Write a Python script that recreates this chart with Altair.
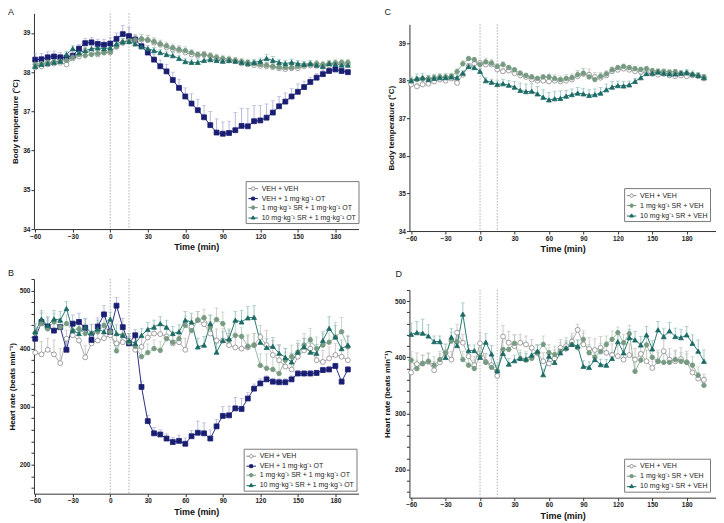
import altair as alt
import pandas as pd

FONT = "Liberation Sans"

# ---------------- data ----------------
T_AB = list(range(-60, 195, 5))   # 51 time points, panels A/B
T_CD = list(range(-60, 200, 5))   # 52 time points, panels C/D
MARKER_TIMES = [0, 15]
X_TICKS = [-60, -30, 0, 30, 60, 90, 120, 150, 180]
TEMP_TICKS = [34, 35, 36, 37, 38, 39]
HR_TICKS = [160, 180, 200, 220, 240, 260, 280, 300, 320, 340, 360, 380, 400,
            420, 440, 460, 480, 500, 520]

LAB_VEH = "VEH + VEH"
LAB_OT = "VEH + 1 mg·kg⁻¹ OT"
LAB_SR1_OT = "1 mg·kg⁻¹ SR + 1 mg·kg⁻¹ OT"
LAB_SR10_OT = "10 mg·kg⁻¹ SR + 1 mg·kg⁻¹ OT"
LAB_SR1_VEH = "1 mg·kg⁻¹ SR + VEH"
LAB_SR10_VEH = "10 mg·kg⁻¹ SR + VEH"

# Panel A: body temperature (°C)
A_veh = [38.12, 38.15, 38.20, 38.22, 38.24, 38.20, 38.35, 38.40, 38.55, 38.50,
         38.45, 38.50, 38.50, 38.65, 38.75, 38.85, 38.85, 38.83, 38.82, 38.75,
         38.70, 38.63, 38.58, 38.55, 38.50, 38.45, 38.42, 38.45, 38.40, 38.35,
         38.30, 38.30, 38.28, 38.22, 38.20, 38.18, 38.16, 38.15, 38.13, 38.10,
         38.08, 38.10, 38.10, 38.15, 38.17, 38.16, 38.14, 38.18, 38.20, 38.22,
         38.20]
A_veh_sem = [0.12, 0.12, 0.10, 0.10, 0.10, 0.08, 0.10, 0.10, 0.10, 0.10,
             0.10, 0.10, 0.10, 0.10, 0.10, 0.10, 0.10, 0.12, 0.12, 0.10,
             0.10, 0.10, 0.10, 0.10, 0.08, 0.08, 0.08, 0.08, 0.08, 0.08,
             0.08, 0.08, 0.08, 0.08, 0.08, 0.08, 0.08, 0.10, 0.10, 0.08,
             0.08, 0.08, 0.08, 0.08, 0.08, 0.08, 0.08, 0.08, 0.08, 0.08,
             0.08]
A_ot = [38.32, 38.33, 38.38, 38.40, 38.38, 38.37, 38.42, 38.60, 38.74, 38.76,
        38.72, 38.70, 38.73, 38.85, 38.97, 38.92, 38.83, 38.66, 38.50, 38.32,
        38.15, 38.02, 37.80, 37.60, 37.38, 37.20, 37.03, 36.85, 36.65, 36.46,
        36.43, 36.45, 36.52, 36.63, 36.62, 36.75, 36.77, 36.84, 36.97, 37.13,
        37.25, 37.38, 37.50, 37.62, 37.75, 37.86, 37.95, 38.03, 38.07, 38.03,
        38.00]
A_ot_sem = [0.15, 0.15, 0.14, 0.14, 0.12, 0.12, 0.12, 0.10, 0.12, 0.12,
            0.12, 0.14, 0.15, 0.15, 0.22, 0.22, 0.12, 0.12, 0.12, 0.14,
            0.16, 0.18, 0.20, 0.22, 0.22, 0.25, 0.28, 0.30, 0.35, 0.35,
            0.30, 0.30, 0.45, 0.45, 0.45, 0.40, 0.38, 0.35, 0.30, 0.25,
            0.22, 0.20, 0.20, 0.15, 0.12, 0.10, 0.10, 0.08, 0.08, 0.06,
            0.06]
A_sr1 = [38.20, 38.22, 38.25, 38.27, 38.28, 38.30, 38.38, 38.45, 38.42, 38.45,
         38.48, 38.50, 38.52, 38.65, 38.75, 38.80, 38.82, 38.85, 38.82, 38.78,
         38.72, 38.67, 38.62, 38.58, 38.55, 38.50, 38.45, 38.45, 38.42, 38.38,
         38.35, 38.33, 38.30, 38.27, 38.25, 38.22, 38.20, 38.18, 38.15, 38.13,
         38.12, 38.12, 38.15, 38.18, 38.20, 38.22, 38.20, 38.22, 38.24, 38.25,
         38.25]
A_sr1_sem = [0.10, 0.10, 0.10, 0.10, 0.10, 0.10, 0.10, 0.08, 0.08, 0.08,
             0.08, 0.08, 0.10, 0.10, 0.10, 0.10, 0.12, 0.12, 0.12, 0.10,
             0.10, 0.10, 0.10, 0.10, 0.10, 0.08, 0.08, 0.08, 0.08, 0.08,
             0.08, 0.08, 0.08, 0.08, 0.08, 0.08, 0.08, 0.08, 0.08, 0.08,
             0.08, 0.08, 0.08, 0.08, 0.08, 0.08, 0.08, 0.08, 0.08, 0.08,
             0.08]
A_sr10 = [38.15, 38.20, 38.22, 38.25, 38.28, 38.45, 38.60, 38.50, 38.55, 38.60,
          38.62, 38.60, 38.62, 38.72, 38.78, 38.78, 38.72, 38.65, 38.60, 38.55,
          38.50, 38.45, 38.42, 38.35, 38.27, 38.25, 38.25, 38.30, 38.32, 38.30,
          38.28, 38.30, 38.28, 38.25, 38.22, 38.25, 38.28, 38.35, 38.30, 38.25,
          38.22, 38.25, 38.22, 38.20, 38.22, 38.18, 38.15, 38.22, 38.20, 38.18,
          38.18]
A_sr10_sem = [0.10, 0.10, 0.08, 0.08, 0.08, 0.08, 0.08, 0.08, 0.08, 0.08,
              0.08, 0.08, 0.08, 0.08, 0.08, 0.08, 0.08, 0.08, 0.08, 0.08,
              0.08, 0.08, 0.08, 0.08, 0.08, 0.08, 0.08, 0.08, 0.08, 0.08,
              0.08, 0.08, 0.08, 0.08, 0.08, 0.08, 0.08, 0.10, 0.10, 0.08,
              0.08, 0.08, 0.08, 0.08, 0.08, 0.08, 0.08, 0.08, 0.08, 0.08,
              0.08]

# Panel B: heart rate (beats min^-1)
B_veh = [393, 390, 398, 390, 375, 417, 423, 414, 385, 409,
         414, 418, 423, 409, 411, 414, 398, 403, 419, 426,
         425, 421, 409, 411, 398, 438, 449, 442, 426, 414,
         414, 406, 402, 400, 402, 406, 420, 406, 389, 380,
         369, 364, 386, 397, 400, 380, 377, 383, 389, 386,
         380]
B_veh_sem = [25, 22, 20, 25, 25, 15, 15, 15, 20, 15,
             15, 12, 12, 15, 15, 12, 15, 15, 15, 15,
             15, 15, 15, 15, 20, 15, 15, 15, 20, 20,
             20, 20, 20, 20, 20, 20, 20, 25, 25, 25,
             25, 25, 20, 20, 20, 20, 20, 20, 20, 20,
             20]
B_ot = [417, 446, 438, 431, 437, 398, 443, 446, 436, 415,
        438, 459, 429, 474, 437, 409, 423, 334, 275, 254,
        252, 245, 239, 241, 236, 249, 255, 254, 245, 266,
        284, 285, 297, 296, 314, 331, 340, 347, 343, 342,
        342, 347, 357, 357, 357, 358, 363, 364, 370, 343,
        364]
B_ot_sem = [20, 15, 15, 15, 15, 15, 15, 15, 15, 15,
            15, 15, 15, 14, 15, 12, 10, 10, 10, 10,
            8, 8, 8, 10, 10, 10, 20, 18, 15, 12,
            16, 16, 19, 18, 10, 8, 8, 6, 6, 6,
            6, 6, 5, 5, 5, 5, 5, 5, 5, 5,
            5]
B_sr1 = [427, 443, 434, 446, 437, 443, 431, 434, 426, 426,
         429, 440, 429, 396, 423, 411, 404, 386, 393, 400,
         397, 417, 411, 417, 440, 431, 449, 453, 437, 450,
         443, 414, 423, 421, 404, 406, 371, 366, 364, 357,
         380, 386, 394, 406, 415, 400, 406, 411, 420, 429,
         403]
B_sr1_sem = [15, 20, 15, 15, 15, 15, 15, 15, 15, 15,
             15, 15, 15, 15, 15, 15, 15, 15, 15, 15,
             15, 15, 15, 15, 15, 15, 15, 15, 20, 20,
             20, 20, 20, 15, 20, 20, 20, 25, 25, 25,
             20, 20, 20, 20, 20, 20, 20, 20, 25, 25,
             20]
B_sr10 = [429, 451, 440, 451, 449, 469, 431, 426, 437, 427,
          434, 429, 451, 426, 423, 414, 409, 423, 433, 437,
          443, 437, 426, 429, 449, 446, 403, 406, 443, 394,
          414, 417, 449, 446, 453, 454, 411, 402, 404, 392,
          385, 377, 394, 403, 394, 392, 414, 435, 420, 400,
          406]
B_sr10_sem = [15, 15, 15, 15, 15, 12, 15, 15, 15, 15,
              15, 15, 12, 15, 15, 12, 12, 12, 12, 12,
              12, 12, 12, 12, 15, 15, 15, 15, 15, 15,
              15, 15, 15, 20, 20, 20, 15, 15, 15, 15,
              15, 15, 15, 15, 15, 15, 15, 20, 20, 15,
              15]

# Panel C: body temperature (°C)
C_veh = [37.90, 37.85, 37.90, 37.92, 37.98, 38.03, 38.00, 38.06, 37.94, 38.16,
         38.38, 38.45, 38.47, 38.43, 38.43, 38.30, 38.25, 38.27, 38.20, 38.14,
         38.10, 38.03, 38.00, 38.00, 37.98, 38.00, 37.98, 38.00, 38.03, 38.12,
         38.18, 38.16, 38.10, 38.08, 38.14, 38.25, 38.29, 38.32, 38.29, 38.25,
         38.24, 38.20, 38.18, 38.16, 38.18, 38.14, 38.12, 38.14, 38.12, 38.14,
         38.12, 38.06]
C_veh_sem = [0.08, 0.08, 0.08, 0.08, 0.08, 0.08, 0.08, 0.08, 0.08, 0.08,
             0.08, 0.08, 0.08, 0.10, 0.10, 0.08, 0.08, 0.08, 0.08, 0.08,
             0.08, 0.08, 0.08, 0.08, 0.08, 0.08, 0.10, 0.10, 0.12, 0.15,
             0.15, 0.15, 0.12, 0.12, 0.12, 0.10, 0.08, 0.08, 0.08, 0.08,
             0.08, 0.08, 0.08, 0.08, 0.08, 0.08, 0.08, 0.08, 0.08, 0.08,
             0.08, 0.08]
C_sr1 = [38.00, 38.03, 38.05, 38.06, 38.08, 38.10, 38.10, 38.12, 38.24, 38.45,
         38.59, 38.56, 38.43, 38.50, 38.47, 38.38, 38.43, 38.35, 38.29, 38.20,
         38.14, 38.10, 38.06, 38.10, 38.10, 38.06, 38.03, 38.06, 38.08, 38.16,
         38.20, 38.10, 38.03, 38.12, 38.18, 38.29, 38.35, 38.38, 38.35, 38.32,
         38.30, 38.32, 38.27, 38.25, 38.25, 38.23, 38.24, 38.20, 38.20, 38.16,
         38.14, 38.10]
C_sr1_sem = [0.08, 0.08, 0.08, 0.08, 0.08, 0.08, 0.08, 0.08, 0.08, 0.08,
             0.06, 0.06, 0.08, 0.10, 0.10, 0.08, 0.08, 0.06, 0.06, 0.06,
             0.06, 0.06, 0.06, 0.06, 0.08, 0.10, 0.10, 0.10, 0.10, 0.10,
             0.12, 0.12, 0.12, 0.10, 0.08, 0.08, 0.06, 0.06, 0.06, 0.06,
             0.06, 0.06, 0.06, 0.06, 0.06, 0.06, 0.06, 0.06, 0.06, 0.06,
             0.06, 0.06]
C_sr10 = [38.00, 38.06, 38.08, 38.03, 38.06, 38.08, 38.08, 38.10, 38.08, 38.20,
          38.38, 38.35, 38.25, 38.00, 37.96, 37.90, 37.92, 37.88, 37.83, 37.74,
          37.71, 37.72, 37.65, 37.56, 37.49, 37.52, 37.53, 37.59, 37.63, 37.67,
          37.65, 37.61, 37.63, 37.67, 37.76, 37.83, 37.87, 37.86, 37.89, 37.98,
          38.08, 38.19, 38.20, 38.23, 38.20, 38.18, 38.18, 38.20, 38.22, 38.18,
          38.14, 38.08]
C_sr10_sem = [0.10, 0.12, 0.12, 0.12, 0.10, 0.10, 0.10, 0.08, 0.08, 0.08,
              0.08, 0.08, 0.08, 0.08, 0.08, 0.10, 0.12, 0.12, 0.15, 0.20,
              0.20, 0.20, 0.20, 0.20, 0.20, 0.20, 0.20, 0.15, 0.15, 0.15,
              0.15, 0.15, 0.15, 0.15, 0.15, 0.15, 0.12, 0.12, 0.10, 0.08,
              0.08, 0.08, 0.08, 0.08, 0.08, 0.08, 0.08, 0.08, 0.08, 0.08,
              0.08, 0.08]

# Panel D: heart rate (beats min^-1)
D_veh = [373, 388, 389, 392, 377, 391, 409, 396, 444, 426,
         402, 386, 425, 392, 386, 367, 437, 426, 420, 426,
         423, 417, 408, 393, 389, 398, 417, 420, 428, 449,
         423, 415, 413, 417, 408, 404, 402, 396, 404, 396,
         406, 393, 381, 393, 411, 396, 393, 397, 391, 373,
         362, 360]
D_veh_sem = [20, 20, 15, 15, 15, 15, 15, 15, 15, 15,
             20, 15, 20, 15, 15, 15, 20, 20, 20, 15,
             15, 15, 15, 15, 15, 15, 15, 15, 15, 10,
             20, 20, 20, 20, 20, 20, 20, 20, 20, 20,
             20, 20, 20, 20, 20, 20, 20, 20, 20, 15,
             10, 10]
D_sr1 = [395, 380, 389, 393, 386, 396, 408, 429, 428, 396,
         386, 380, 402, 391, 382, 376, 414, 414, 425, 398,
         395, 398, 408, 423, 408, 405, 411, 415, 423, 417,
         432, 408, 400, 410, 423, 432, 444, 426, 442, 375,
         395, 422, 400, 393, 391, 391, 396, 393, 391, 386,
         368, 350]
D_sr1_sem = [15, 15, 15, 15, 15, 15, 15, 15, 15, 15,
             15, 15, 15, 15, 15, 15, 15, 15, 15, 15,
             15, 15, 15, 15, 15, 15, 15, 15, 15, 15,
             15, 15, 15, 15, 15, 15, 10, 15, 15, 15,
             15, 15, 15, 15, 15, 15, 15, 15, 15, 15,
             15, 15]
D_sr10 = [441, 444, 443, 438, 428, 428, 400, 436, 421, 477,
          412, 412, 400, 427, 406, 376, 407, 388, 394, 398,
          397, 404, 411, 369, 402, 391, 408, 417, 423, 420,
          384, 382, 396, 387, 386, 398, 428, 408, 435, 431,
          422, 440, 415, 449, 437, 447, 437, 435, 440, 425,
          411, 393]
D_sr10_sem = [20, 20, 25, 20, 10, 10, 10, 15, 20, 20,
              10, 10, 10, 15, 15, 10, 10, 10, 10, 10,
              10, 10, 10, 10, 10, 10, 10, 10, 10, 10,
              10, 10, 10, 10, 10, 10, 15, 15, 15, 15,
              15, 15, 15, 15, 15, 15, 15, 15, 15, 15,
              20, 20]

# ---------------- styles ----------------
STYLE = {
    "veh": dict(line="#ababab", stroke="#8a8a8a", fill="#ffffff", err="#c4b8b8",
                shape="circle",
                leg="M-1,0L-0.42,0M0.42,0L1,0M-0.36,0A0.36,0.36 0 1,0 0.36,0A0.36,0.36 0 1,0 -0.36,0Z"),
    "ot": dict(line="#2a2e88", stroke="#1a1e72", fill="#1a1e72", err="#a4a8d0",
               shape="square",
               leg="M-1,0L1,0M-0.3,-0.3L0.3,-0.3L0.3,0.3L-0.3,0.3Z"),
    "sr1": dict(line="#9cb9a4", stroke="#779a82", fill="#779a82", err="#b4cbbb",
                shape="M-0.5,-0.87L0.5,-0.87L1,0L0.5,0.87L-0.5,0.87L-1,0Z",
                leg="M-1,0L1,0M-0.19,-0.34L0.19,-0.34L0.38,0L0.19,0.34L-0.19,0.34L-0.38,0Z"),
    "sr10": dict(line="#2a7a73", stroke="#1c6a64", fill="#1c6a64", err="#88bab5",
                 shape="triangle-up",
                 leg="M-1,0.1L1,0.1M0,-0.36L0.4,0.3L-0.4,0.3Z"),
}


def frame(times, series):
    rows = []
    for lab, vals, sems in series:
        for t, v, s in zip(times, vals, sems):
            rows.append({"t": t, "s": lab, "v": v, "hi": v + s})
    return pd.DataFrame(rows)


def letter(text, dx, dy):
    # panel letter, placed relative to the panel's plot origin
    return alt.Chart(pd.DataFrame({"k": [text]})).mark_text(
        align="left", baseline="top", fontSize=9, font=FONT, color="#222222"
    ).encode(x=alt.value(dx), y=alt.value(dy), text="k:N")


def panel(df, keys, labels, xdom, ydom, yvals, hr, ytitle, w, h,
          let, lx, ly):
    xs = alt.Scale(domain=xdom, nice=False, zero=False)
    ys = alt.Scale(domain=ydom, nice=False, zero=False)
    xax = alt.Axis(values=X_TICKS, title="Time (min)", format="d",
                   titleFontSize=9, titleFontWeight="bold",
                   labelFontSize=6.5, labelFontWeight="bold",
                   tickSize=3, labelPadding=1, titlePadding=3, grid=False)
    yax = alt.Axis(values=yvals, title=ytitle,
                   labelExpr=("datum.value % 100 === 0 ? datum.label : ''" if hr
                              else "datum.label"),
                   titleFontSize=8, titleFontWeight="bold",
                   labelFontSize=6.5, labelFontWeight="bold",
                   tickSize=3, labelPadding=1, titlePadding=3, grid=False)
    X = alt.X("t:Q", scale=xs, axis=xax)
    Y = alt.Y("v:Q", scale=ys, axis=yax)
    Yhi = alt.Y("hi:Q", scale=ys, axis=yax)

    def sc(prop):
        return alt.Scale(domain=labels, range=[STYLE[k][prop] for k in keys])

    leg = alt.Legend(title=None, orient="none", legendX=lx, legendY=ly,
                     strokeColor="#7a7a7a", fillColor="#ffffff", padding=2,
                     labelFont=FONT, labelFontSize=7, labelColor="#222222",
                     rowPadding=0, symbolSize=90, symbolStrokeWidth=1,
                     symbolOpacity=1, labelLimit=300, labelOffset=3)

    base = alt.Chart(df)
    markers = alt.Chart(pd.DataFrame({"t": MARKER_TIMES})).mark_rule(
        color="#9a9a9a", strokeWidth=0.8, strokeDash=[1.5, 1.5]).encode(x=X)
    err = base.mark_rule(strokeWidth=0.8).encode(
        x=X, y=Y, y2="hi:Q",
        color=alt.Color("s:N", scale=sc("err"), legend=None))
    caps = base.mark_tick(orient="horizontal", size=4, thickness=0.8).encode(
        x=X, y=Yhi, color=alt.Color("s:N", scale=sc("err"), legend=None))
    lines = base.mark_line(strokeWidth=1).encode(
        x=X, y=Y, color=alt.Color("s:N", scale=sc("line"), legend=None))
    pts = base.mark_point(filled=True, size=24, strokeWidth=0.8, opacity=1).encode(
        x=X, y=Y,
        shape=alt.Shape("s:N", scale=sc("shape"), legend=None),
        fill=alt.Fill("s:N", scale=sc("fill"), legend=None),
        stroke=alt.Stroke("s:N", scale=sc("stroke"), legend=None))
    legl = base.mark_point(filled=True, opacity=0).encode(
        x=X, y=Y,
        shape=alt.Shape("s:N", scale=sc("leg"), legend=leg),
        fill=alt.Fill("s:N", scale=sc("fill"), legend=leg),
        stroke=alt.Stroke("s:N", scale=sc("stroke"), legend=leg))

    layers = [markers, err, caps, lines, pts, legl]
    if let is not None:
        layers.append(let)
    return alt.layer(*layers).resolve_scale(
        color="independent", fill="independent", stroke="independent",
        shape="independent").properties(width=w, height=h)


KEYS_AB = ["veh", "ot", "sr1", "sr10"]
LABS_AB = [LAB_VEH, LAB_OT, LAB_SR1_OT, LAB_SR10_OT]
KEYS_CD = ["veh", "sr1", "sr10"]
LABS_CD = [LAB_VEH, LAB_SR1_VEH, LAB_SR10_VEH]

dfA = frame(T_AB, [(LAB_VEH, A_veh, A_veh_sem), (LAB_OT, A_ot, A_ot_sem),
                   (LAB_SR1_OT, A_sr1, A_sr1_sem), (LAB_SR10_OT, A_sr10, A_sr10_sem)])
dfB = frame(T_AB, [(LAB_VEH, B_veh, B_veh_sem), (LAB_OT, B_ot, B_ot_sem),
                   (LAB_SR1_OT, B_sr1, B_sr1_sem), (LAB_SR10_OT, B_sr10, B_sr10_sem)])
dfC = frame(T_CD, [(LAB_VEH, C_veh, C_veh_sem), (LAB_SR1_VEH, C_sr1, C_sr1_sem),
                   (LAB_SR10_VEH, C_sr10, C_sr10_sem)])
dfD = frame(T_CD, [(LAB_VEH, D_veh, D_veh_sem), (LAB_SR1_VEH, D_sr1, D_sr1_sem),
                   (LAB_SR10_VEH, D_sr10, D_sr10_sem)])

TEMP_TITLE = "Body temperature (°C)"
HR_TITLE = "Heart rate (beats min⁻¹)"

pA = panel(dfA, KEYS_AB, LABS_AB, [-61, 198.5], [34, 39.5], TEMP_TICKS, False,
           TEMP_TITLE, 325, 216, letter("A", -26, -5), 212, 168)
pB = panel(dfB, KEYS_AB, LABS_AB, [-61, 198.5], [150, 520], HR_TICKS, True,
           HR_TITLE, 325, 215, letter("B", -26, -10), 210, 170)
pC = panel(dfC, KEYS_CD, LABS_CD, [-61.5, 205.5], [34, 39.5], TEMP_TICKS, False,
           TEMP_TITLE, 307, 207, None, 215, 164)
pD = panel(dfD, KEYS_CD, LABS_CD, [-61.5, 205.5], [150, 520], HR_TICKS, True,
           HR_TITLE, 307, 208, letter("D", -14, -20), 215, 169)

# empty band above panel C carrying its letter (panel C sits lower than A)
spacerC = alt.layer(letter("C", -25, -5)).properties(width=307, height=10)

left = alt.vconcat(pA, pB, spacing=17)
right = alt.vconcat(alt.vconcat(spacerC, pC, spacing=0), pD, spacing=16)

chart = alt.hconcat(left, right, spacing=24).properties(
    padding={"left": 0, "top": 0, "right": 0, "bottom": 0}
).configure(
    padding={"left": 0, "top": 0, "right": 0, "bottom": 0}
).configure_view(
    strokeWidth=0
).configure_axis(
    labelFont=FONT, titleFont=FONT, domainColor="#333333", tickColor="#333333",
    labelColor="#222222", titleColor="#111111", domainWidth=1, tickWidth=1
)

chart.save("out.html", embed_options={"renderer": "svg", "actions": False})
